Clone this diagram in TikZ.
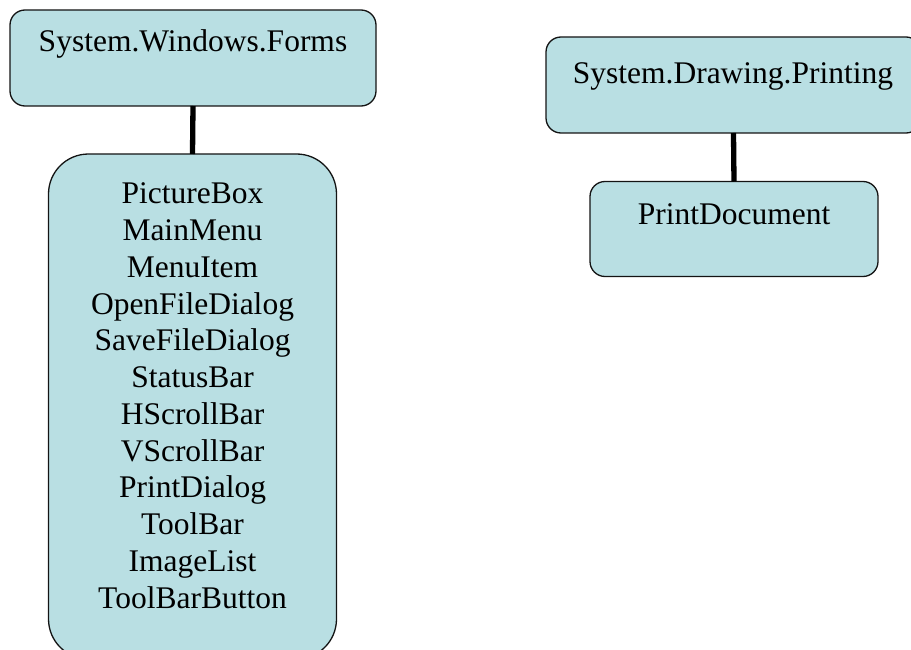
\documentclass[tikz,border=0pt]{standalone}
\usepackage{fontspec}
\setmainfont{Liberation Serif}
\definecolor{boxfill}{RGB}{185,223,227}
\definecolor{boxline}{RGB}{20,20,20}
\begin{document}
\begin{tikzpicture}[x=1pt,y=-1pt,
  box/.style={rectangle, draw=boxline, line width=1.3pt, fill=boxfill, inner sep=0pt, outer sep=0pt},
  lbl/.style={anchor=base, inner sep=0pt, font=\fontsize{31.5pt}{36.7pt}\selectfont},
  link/.style={draw=black, line width=5.3pt}]
\path[use as bounding box] (0,0) rectangle (911,650);
\clip (0,0) rectangle (911,650);
% left tree
\node[box, rounded corners=15pt, minimum width=366pt, minimum height=96pt] (forms) at (193,58) {};
\node[lbl] (formst) at (193,52) {System.Windows.Forms};
\node[box, rounded corners=40pt, minimum width=288pt, minimum height=505pt] (list) at (192.5,406.5) {};
\foreach \t [count=\i] in {PictureBox,MainMenu,MenuItem,OpenFileDialog,SaveFileDialog,StatusBar,HScrollBar,VScrollBar,PrintDialog,ToolBar,ImageList,ToolBarButton}{
  \node[lbl] (item\i) at (192.5,{204+(\i-1)*36.73}) {\t};
}
\draw[link] (forms.south) -- (list.north);
% right tree
\node[box, rounded corners=15pt, minimum width=375pt, minimum height=96pt] (printing) at (733.5,85) {};
\node[lbl] (printingt) at (733,84) {System.Drawing.Printing};
\node[box, rounded corners=15pt, minimum width=288pt, minimum height=95pt] (pdoc) at (734,229) {};
\node[lbl] (pdoct) at (734,224) {PrintDocument};
\draw[link] (printing.south) -- (pdoc.north);
\end{tikzpicture}
\end{document}
